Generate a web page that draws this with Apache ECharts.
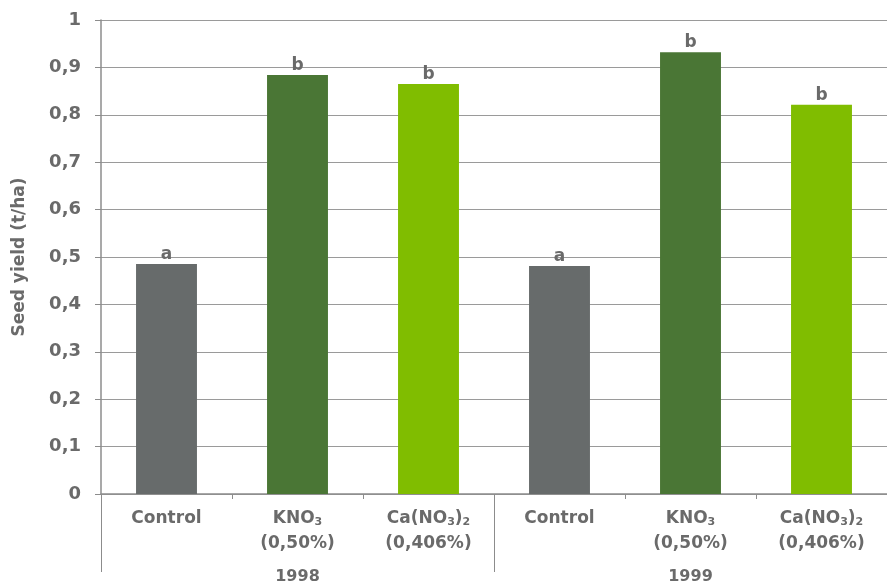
<!DOCTYPE html>
<html><head><meta charset="utf-8">
<script src="https://cdn.jsdelivr.net/npm/echarts@6/dist/echarts.min.js"></script>
<style>html,body{margin:0;padding:0;background:#fff;overflow:hidden}#c{width:887px;height:583px}</style>
</head><body><div id="c"></div>
<script>
const categories = ['Control', 'KNO{s|3}\n(0,50%)', 'Ca(NO{s|3}){s|2}\n(0,406%)', 'Control', 'KNO{s|3}\n(0,50%)', 'Ca(NO{s|3}){s|2}\n(0,406%)'];
const years = ['1998', '1999'];
const values1998 = [0.485, 0.884, 0.865];
const values1999 = [0.481, 0.932, 0.821];
const letters1998 = ['a', 'b', 'b'];
const letters1999 = ['a', 'b', 'b'];
const treatmentColors = ['#676b6b', '#4a7635', '#80bd00'];

const values = values1998.concat(values1999);
const letters = letters1998.concat(letters1999);
const txt = '#6a6a6a';
const font = '"DejaVu Sans", sans-serif';
const chart = echarts.init(document.getElementById('c'));
chart.setOption({
  animation: false,
  grid: {left: 101, right: 0, top: 20, bottom: 89, containLabel: false, outerBoundsMode: 'none'},
  xAxis: [{
    type: 'category', data: categories, position: 'bottom',
    axisLine: {lineStyle: {color: '#8c8c8c', width: 1.5}},
    axisTick: {show: true, length: 5, lineStyle: {color: '#8c8c8c'}},
    axisLabel: {color: txt, fontSize: 17, fontWeight: 'bold', fontFamily: font, margin: 12, lineHeight: 25,
      interval: 0,
      rich: {s: {fontSize: 11, fontWeight: 'bold', color: txt, fontFamily: font, padding: [7, 0, 0, 0]}}}
  }, {
    type: 'category', data: years, position: 'bottom',
    axisLine: {show: false},
    axisTick: {show: true, length: 78, lineStyle: {color: '#8c8c8c'}},
    axisLabel: {color: txt, fontSize: 16, fontWeight: 'bold', fontFamily: font, margin: 75}
  }],
  yAxis: {
    type: 'value', min: 0, max: 1, interval: 0.1,
    name: 'Seed yield (t/ha)', nameLocation: 'middle', nameGap: 73,
    nameTextStyle: {color: txt, fontSize: 17, fontWeight: 'bold', fontFamily: font},
    axisLine: {show: true, lineStyle: {color: '#8c8c8c', width: 1.5}},
    axisTick: {show: true, length: 6, lineStyle: {color: '#8c8c8c'}},
    splitLine: {lineStyle: {color: '#9a9a9a', width: 1.2}},
    axisLabel: {color: txt, fontSize: 18, fontWeight: 'bold', fontFamily: font, margin: 20,
      formatter: v => String(Math.round(v * 10) / 10).replace('.', ',')}
  },
  series: [{
    type: 'bar', xAxisIndex: 0, barWidth: '46.5%',
    data: values.map((v, i) => ({value: v, itemStyle: {color: treatmentColors[i % 3]}})),
    label: {show: true, position: 'top', distance: 1, color: txt, fontSize: 17, fontWeight: 'bold', fontFamily: font,
      formatter: p => letters[p.dataIndex]}
  }]
});
</script></body></html>
